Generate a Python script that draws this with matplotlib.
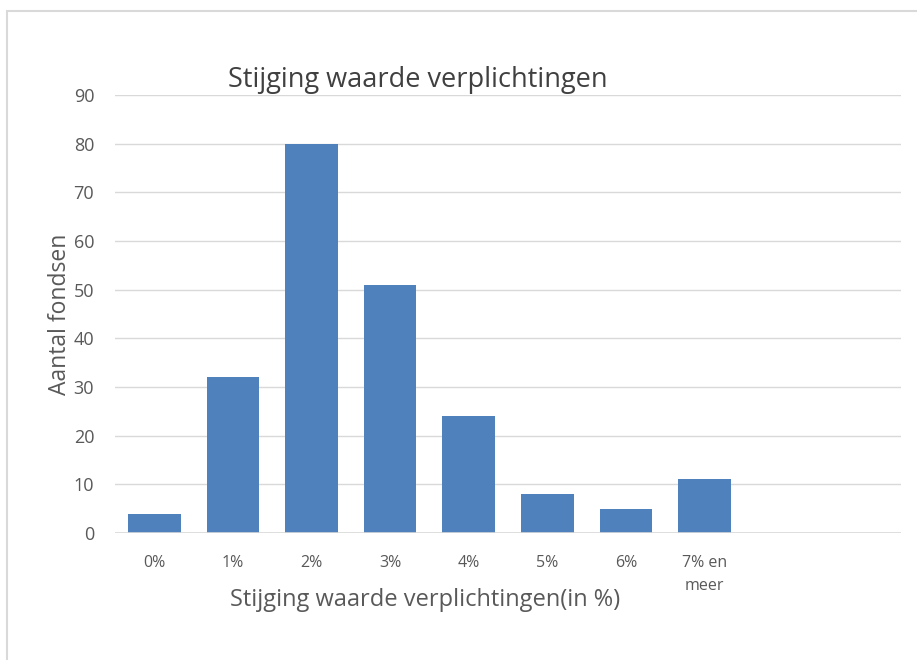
import matplotlib
matplotlib.use('Agg')
import matplotlib.pyplot as plt
from matplotlib.patches import Rectangle

categories = ['0%', '1%', '2%', '3%', '4%', '5%', '6%', '7% en\nmeer']
counts = [4, 32, 80, 51, 24, 8, 5, 11]
yticks = [0, 10, 20, 30, 40, 50, 60, 70, 80, 90]

plt.rcParams['font.family'] = ['Open Sans', 'DejaVu Sans']

W, H = 917, 660
fig = plt.figure(figsize=(W / 100, H / 100), dpi=100)

# chart area border (light gray, cut off at right / bottom)
fig.patches.append(Rectangle((7 / W, -0.1), 1.2, 1 - 11 / H + 0.1, transform=fig.transFigure,
                             fill=False, edgecolor='#D9D9D9', linewidth=1.5))

ax = fig.add_axes([115 / W, 1 - 533 / H, (901 - 115) / W, (533 - 95) / H])
x = list(range(len(categories)))
ax.bar(x, counts, width=0.67, color='#4F81BD', zorder=3)
ax.set_xlim(-0.5, 9.5)
ax.set_ylim(0, 90)
ax.set_yticks(yticks)
ax.set_xticks(x)
ax.set_xticklabels(categories, fontsize=11.5, color='#595959', linespacing=1.6)
ax.set_yticklabels([str(v) for v in yticks], fontsize=13, color='#595959')
ax.tick_params(length=0, axis='y', pad=15)
ax.tick_params(length=0, axis='x', pad=16)
ax.grid(axis='y', color='#D9D9D9', linewidth=1, zorder=0)
for s in ax.spines.values():
    s.set_visible(False)
ax.axhline(0, color='#D9D9D9', linewidth=1.2, zorder=4)

ax.set_ylabel('Aantal fondsen', fontsize=16.5, color='#595959', labelpad=1)
fig.text(425 / W, 1 - 600 / H, 'Stijging waarde verplichtingen(in %)', fontsize=17,
         color='#595959', ha='center', va='center')
fig.text(418 / W, 1 - 80 / H, 'Stijging waarde verplichtingen', fontsize=19.5,
         color='#404040', ha='center', va='center')

fig.savefig('out.png', dpi=100)
